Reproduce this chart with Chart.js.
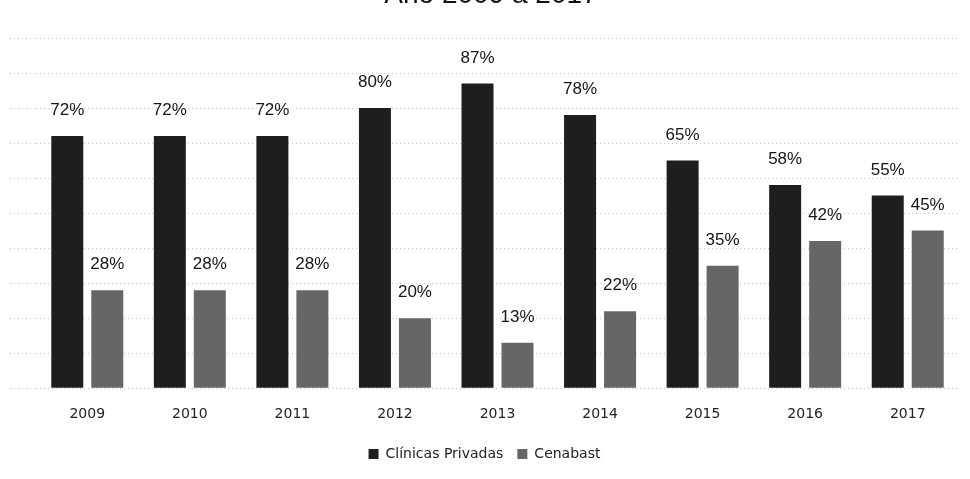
<!DOCTYPE html>
<html>
<head>
<meta charset="utf-8">
<script src="https://cdn.jsdelivr.net/npm/chart.js@4.4.0/dist/chart.umd.min.js"></script>
<style>
  html, body { margin: 0; padding: 0; background: #fff; }
  canvas { display: block; }
</style>
</head>
<body>
<canvas id="myChart" width="970" height="479"></canvas>
<script>
const years = ['2009', '2010', '2011', '2012', '2013', '2014', '2015', '2016', '2017'];
const clinicas = [72, 72, 72, 80, 87, 78, 65, 58, 55];
const cenabast = [28, 28, 28, 20, 13, 22, 35, 42, 45];
const titleText = 'Año 2009 a 2017';

// title sits mostly above the top edge, only its lower part shows
const topTitle = {
    id: 'topTitle',
    afterDraw(chart) {
        const ctx = chart.ctx;
        ctx.save();
        ctx.font = '28px "Liberation Sans", Arial, sans-serif';
        ctx.fillStyle = '#111';
        ctx.textAlign = 'center';
        ctx.textBaseline = 'alphabetic';
        ctx.fillText(titleText, 491, 3);
        ctx.restore();
    }
};

// percentage above every bar
const barLabels = {
    id: 'barLabels',
    afterDatasetsDraw(chart) {
        const ctx = chart.ctx;
        ctx.save();
        ctx.font = '17px "Liberation Sans", Arial, sans-serif';
        ctx.fillStyle = '#151515';
        ctx.textAlign = 'center';
        ctx.textBaseline = 'bottom';
        chart.data.datasets.forEach((ds, i) => {
            chart.getDatasetMeta(i).data.forEach((bar, j) => {
                ctx.fillText(ds.data[j] + '%', bar.x, bar.y - 17);
            });
        });
        ctx.restore();
    }
};

const ctx = document.getElementById('myChart');
new Chart(ctx, {
    type: 'bar',
    data: {
        labels: years,
        datasets: [
            {
                label: 'Clínicas Privadas',
                data: clinicas,
                backgroundColor: '#1e1e1e'
            },
            {
                label: 'Cenabast',
                data: cenabast,
                backgroundColor: '#666666'
            }
        ]
    },
    options: {
        responsive: false,
        animation: false,
        devicePixelRatio: 1,
        categoryPercentage: 0.78,
        barPercentage: 0.8,
        layout: {
            padding: { left: 10, right: 11, top: 38, bottom: 8 }
        },
        scales: {
            x: {
                grid: { display: false },
                border: { display: false },
                ticks: {
                    color: '#222',
                    padding: 10,
                    font: { family: '"DejaVu Sans"', size: 14 }
                }
            },
            y: {
                min: 0,
                max: 100,
                ticks: { display: false, stepSize: 10 },
                border: { display: false, dash: [1, 3] },
                grid: {
                    color: '#c4c4c4',
                    lineWidth: 1,
                    tickLength: 26,
                    tickBorderDash: [1, 3],
                    drawTicks: true
                }
            }
        },
        plugins: {
            legend: {
                position: 'bottom',
                labels: {
                    color: '#222',
                    boxWidth: 10,
                    boxHeight: 10,
                    padding: 14,
                    font: { family: '"DejaVu Sans"', size: 14 }
                }
            },
            tooltip: { enabled: false }
        }
    },
    plugins: [topTitle, barLabels]
});
</script>
</body>
</html>
